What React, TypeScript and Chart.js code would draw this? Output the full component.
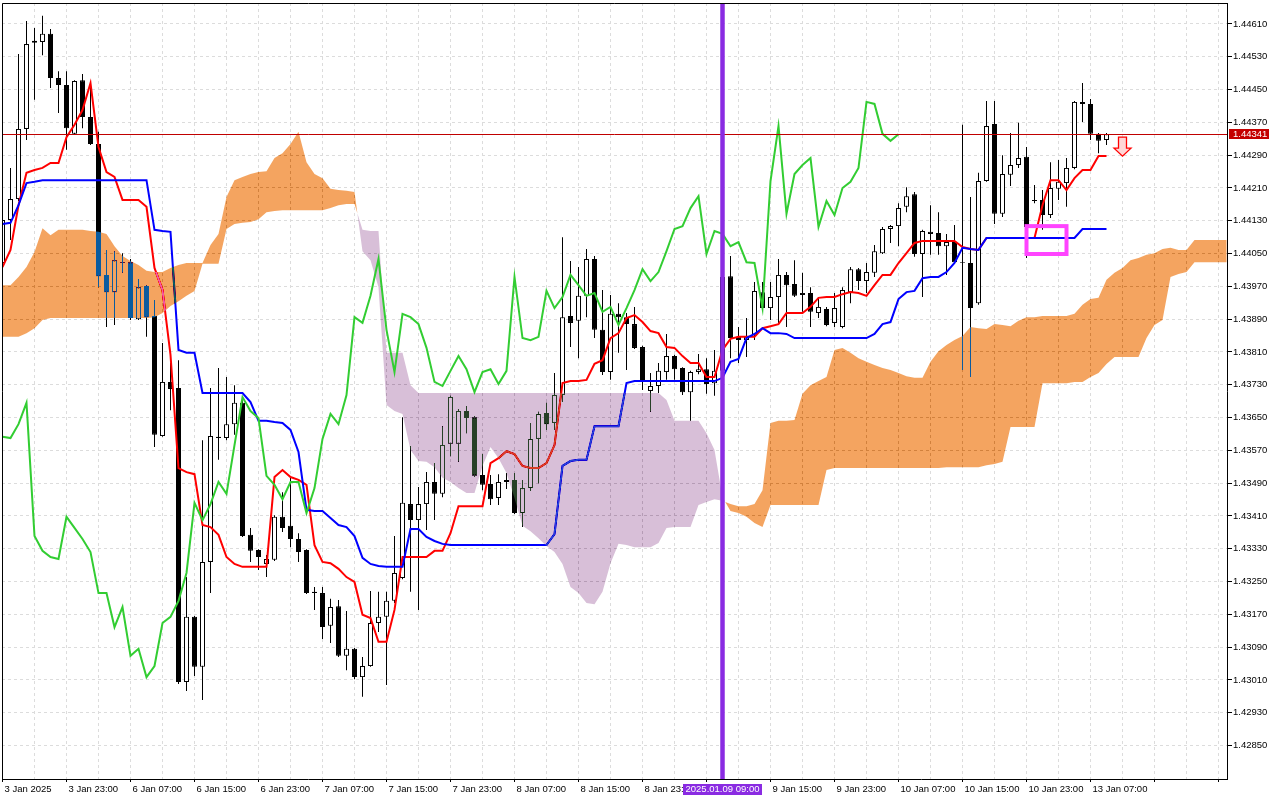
import { useEffect, useRef } from 'react';
import { Chart, registerables } from 'chart.js';

Chart.register(...registerables);

// H1 bars, index 0 = 3 Jan 15:00; one label every 8 bars
const timeLabels = [
  '3 Jan 2025', '3 Jan 23:00', '6 Jan 07:00', '6 Jan 15:00', '6 Jan 23:00', '7 Jan 07:00',
  '7 Jan 15:00', '7 Jan 23:00', '8 Jan 07:00', '8 Jan 15:00', '8 Jan 23:00', '9 Jan 07:00',
  '9 Jan 15:00', '9 Jan 23:00', '10 Jan 07:00', '10 Jan 15:00', '10 Jan 23:00', '13 Jan 07:00',
];

const priceTicks = [
  1.4461, 1.4453, 1.4445, 1.4437, 1.4429, 1.4421, 1.4413, 1.4405, 1.4397, 1.4389, 1.4381, 1.4373,
  1.4365, 1.4357, 1.4349, 1.4341, 1.4333, 1.4325, 1.4317, 1.4309, 1.4301, 1.4293, 1.4285,
];

const opens = [
  1.44027, 1.44132, 1.44183, 1.44354, 1.44564, 1.44566, 1.44586, 1.44478, 1.44461, 1.44342,
  1.44473, 1.44383, 1.44317, 1.43998, 1.43956, 1.44029, 1.44029, 1.4389, 1.43971, 1.43898,
  1.43605, 1.43737, 1.43722, 1.43005, 1.43164, 1.43042, 1.43298, 1.43603, 1.436, 1.43634,
  1.43686, 1.43364, 1.43327, 1.43293, 1.43303, 1.43408, 1.43386, 1.43354, 1.43327, 1.43225,
  1.43222, 1.43142, 1.4319, 1.43069, 1.43086, 1.43017, 1.43044, 1.43149, 1.43164, 1.43203,
  1.43259, 1.43439, 1.434, 1.43439, 1.43493, 1.43464, 1.43586, 1.43586, 1.43666, 1.43651,
  1.4351, 1.43488, 1.43454, 1.43498, 1.43498, 1.43417, 1.43478, 1.43598, 1.43661, 1.43637,
  1.43705, 1.43898, 1.43886, 1.43947, 1.44037, 1.43864, 1.43761, 1.43903, 1.43895, 1.43878,
  1.43822, 1.43715, 1.43727, 1.43761, 1.438, 1.43771, 1.43712, 1.43761, 1.43768, 1.43734,
  1.43764, 1.43995, 1.43847, 1.43839, 1.43851, 1.43956, 1.43917, 1.43944, 1.43998, 1.43976,
  1.43949, 1.43954, 1.43905, 1.43915, 1.43881, 1.43871, 1.43956, 1.44012, 1.43983, 1.44003,
  1.44051, 1.4411, 1.44117, 1.44164, 1.44195, 1.44049, 1.44103, 1.441, 1.44068, 1.44078,
  1.44029, 1.44027, 1.43929, 1.44227, 1.44366, 1.44147, 1.44242, 1.44266, 1.44286, 1.44181,
  1.44181, 1.44144, 1.44208, 1.44222, 1.44259, 1.4442, 1.44415, 1.44342, 1.44327,
];
const highs = [
  1.44144, 1.44259, 1.44537, 1.44617, 1.446, 1.4463, 1.44598, 1.44495, 1.44495, 1.44473,
  1.44488, 1.44466, 1.44347, 1.44059, 1.44056, 1.44051, 1.44037, 1.43988, 1.43973, 1.43937,
  1.43832, 1.43783, 1.4379, 1.43261, 1.43166, 1.43595, 1.43722, 1.43771, 1.43749, 1.43729,
  1.43698, 1.43381, 1.43329, 1.43315, 1.43412, 1.43468, 1.43503, 1.43368, 1.43329, 1.43237,
  1.43237, 1.43208, 1.43205, 1.43178, 1.43088, 1.43066, 1.43227, 1.43225, 1.43225, 1.43361,
  1.43651, 1.43581, 1.43481, 1.43517, 1.43539, 1.43629, 1.43703, 1.43671, 1.43678, 1.43654,
  1.43561, 1.4351, 1.43512, 1.43515, 1.43515, 1.43498, 1.43637, 1.43664, 1.43686, 1.43759,
  1.4409, 1.44032, 1.44017, 1.44061, 1.44044, 1.43961, 1.43949, 1.43929, 1.43905, 1.4392,
  1.43825, 1.43759, 1.43783, 1.43854, 1.43803, 1.43773, 1.43764, 1.43805, 1.43795, 1.43815,
  1.44029, 1.44044, 1.43871, 1.43893, 1.43981, 1.43981, 1.43981, 1.44037, 1.44005, 1.44034,
  1.44003, 1.43968, 1.43942, 1.4392, 1.43954, 1.43968, 1.44017, 1.44015, 1.44027, 1.44071,
  1.44115, 1.4412, 1.44173, 1.44212, 1.442, 1.44108, 1.44168, 1.44151, 1.44098, 1.4412,
  1.44364, 1.44188, 1.44247, 1.44422, 1.44422, 1.4429, 1.44344, 1.44369, 1.4431, 1.44217,
  1.44205, 1.44273, 1.44278, 1.44283, 1.44422, 1.44466, 1.44427, 1.44344, 1.44344,
];
const lows = [
  1.44015, 1.44083, 1.44178, 1.44327, 1.44425, 1.44534, 1.44454, 1.44393, 1.44303, 1.44339,
  1.44356, 1.44315, 1.43968, 1.43871, 1.43876, 1.44003, 1.43888, 1.43888, 1.43847, 1.43578,
  1.43603, 1.43668, 1.43, 1.42983, 1.4302, 1.42961, 1.43222, 1.43547, 1.43595, 1.43608,
  1.43359, 1.43298, 1.43278, 1.43261, 1.433, 1.43371, 1.43334, 1.43298, 1.4322, 1.43181,
  1.4311, 1.431, 1.43066, 1.43034, 1.43012, 1.42969, 1.43042, 1.43127, 1.42998, 1.43198,
  1.43256, 1.43225, 1.43181, 1.43376, 1.434, 1.43456, 1.43556, 1.43542, 1.43612, 1.43505,
  1.43473, 1.43437, 1.43437, 1.43476, 1.43415, 1.43383, 1.43471, 1.4349, 1.4362, 1.4362,
  1.43688, 1.43822, 1.43795, 1.43895, 1.43844, 1.43754, 1.43742, 1.43808, 1.43766, 1.43817,
  1.43717, 1.43664, 1.4371, 1.43742, 1.43742, 1.43705, 1.43642, 1.43756, 1.43708, 1.43703,
  1.43754, 1.43795, 1.43783, 1.43798, 1.43839, 1.43915, 1.43888, 1.43876, 1.43871, 1.43944,
  1.43908, 1.43871, 1.43893, 1.43873, 1.43871, 1.43868, 1.43929, 1.43961, 1.43954, 1.43993,
  1.44049, 1.44076, 1.44068, 1.44151, 1.44042, 1.43944, 1.44047, 1.44047, 1.43998, 1.44027,
  1.43766, 1.43749, 1.43925, 1.44225, 1.44122, 1.44139, 1.44215, 1.44259, 1.44039, 1.44173,
  1.44108, 1.44137, 1.44181, 1.44164, 1.44256, 1.44371, 1.44327, 1.44295, 1.44315,
];
const closes = [
  1.44132, 1.44183, 1.44354, 1.44561, 1.44569, 1.44586, 1.44478, 1.44461, 1.44356, 1.44471,
  1.44383, 1.44317, 1.43995, 1.43956, 1.44034, 1.44027, 1.43893, 1.43968, 1.43895, 1.43608,
  1.43737, 1.4372, 1.43005, 1.43164, 1.43042, 1.43298, 1.43605, 1.436, 1.43634, 1.43686,
  1.43361, 1.43325, 1.4331, 1.43305, 1.43408, 1.43381, 1.43354, 1.43322, 1.43222, 1.43222,
  1.43139, 1.43188, 1.43069, 1.43086, 1.43017, 1.43044, 1.43149, 1.43164, 1.43203, 1.43271,
  1.43442, 1.434, 1.43439, 1.43493, 1.43464, 1.43583, 1.437, 1.43666, 1.43649, 1.43508,
  1.43486, 1.43451, 1.43493, 1.43493, 1.43417, 1.43478, 1.43598, 1.43659, 1.43634, 1.43705,
  1.43895, 1.43881, 1.43947, 1.44037, 1.43864, 1.43761, 1.43903, 1.43895, 1.43878, 1.4382,
  1.43737, 1.43727, 1.43764, 1.438, 1.43768, 1.43712, 1.43761, 1.43768, 1.43732, 1.43764,
  1.43993, 1.43844, 1.43839, 1.43847, 1.43959, 1.43917, 1.43944, 1.43998, 1.43973, 1.43947,
  1.43954, 1.43908, 1.4392, 1.43876, 1.43917, 1.43961, 1.44012, 1.43983, 1.44005, 1.44056,
  1.4411, 1.44117, 1.44161, 1.4419, 1.44049, 1.44105, 1.44098, 1.44068, 1.44078, 1.44029,
  1.44027, 1.43917, 1.44227, 1.44361, 1.44147, 1.44244, 1.44266, 1.44283, 1.44115, 1.44178,
  1.44144, 1.4421, 1.44225, 1.44259, 1.4442, 1.44415, 1.44342, 1.44325, 1.44341,
];

const tenkan = [
  1.44017, 1.44059, 1.44168, 1.44247, 1.44254, 1.44259, 1.44271, 1.44271, 1.44334, 1.44364,
  1.444, 1.44466, 1.4431, 1.44249, 1.44237, 1.44181, 1.44181, 1.44181, 1.44164, 1.44015,
  1.43961, 1.43803, 1.43527, 1.43517, 1.43512, 1.43388, 1.43383, 1.43364, 1.4331, 1.43293,
  1.43286, 1.43286, 1.43286, 1.43286, 1.43505, 1.43522, 1.43505, 1.43498, 1.43486, 1.43339,
  1.43298, 1.43295, 1.43281, 1.43261, 1.43249, 1.43169, 1.43161, 1.43103, 1.43103, 1.43181,
  1.4331, 1.4331, 1.4331, 1.4331, 1.43325, 1.43325, 1.43368, 1.43434, 1.43434, 1.43434,
  1.43434, 1.43539, 1.43551, 1.43568, 1.43561, 1.43532, 1.43527, 1.43527, 1.43539, 1.43583,
  1.43734, 1.43739, 1.43739, 1.43742, 1.43781, 1.4379, 1.43844, 1.43856, 1.43893, 1.439,
  1.43883, 1.43861, 1.43856, 1.43822, 1.4382, 1.438, 1.43783, 1.43783, 1.43749, 1.43749,
  1.43815, 1.43842, 1.43847, 1.43847, 1.43847, 1.43868, 1.43873, 1.43878, 1.43905, 1.43905,
  1.43905, 1.4392, 1.43942, 1.43944, 1.43944, 1.43951, 1.43956, 1.43954, 1.43947, 1.43973,
  1.43998, 1.43998, 1.44027, 1.44051, 1.44076, 1.44081, 1.44081, 1.44081, 1.44081, 1.44081,
  1.44066, 1.44061, 1.44059, 1.44088, 1.44088, 1.44088, 1.44088, 1.44088, 1.44088, 1.44088,
  1.44168, 1.44229, 1.44229, 1.44205, 1.44234, 1.44254, 1.44254, 1.44288, 1.44288,
];
const kijun = [
  1.44122, 1.44125, 1.44168, 1.44222, 1.44225, 1.44229, 1.44229, 1.44229, 1.44229, 1.44229,
  1.44229, 1.44229, 1.44229, 1.44229, 1.44229, 1.44229, 1.44229, 1.44229, 1.44229, 1.44108,
  1.44105, 1.44103, 1.43815, 1.43808, 1.43808, 1.4371, 1.4371, 1.4371, 1.4371, 1.4371,
  1.4371, 1.43688, 1.43642, 1.43642, 1.43639, 1.43637, 1.4362, 1.43566, 1.43425, 1.43422,
  1.43422, 1.43405, 1.43388, 1.43383, 1.43361, 1.43308, 1.43293, 1.43288, 1.43286, 1.43286,
  1.43286, 1.43378, 1.43378, 1.43359, 1.43349, 1.43342, 1.43339, 1.43339, 1.43339, 1.43339,
  1.43339, 1.43339, 1.43339, 1.43339, 1.43339, 1.43339, 1.43339, 1.43339, 1.43339, 1.43366,
  1.43532, 1.43544, 1.43547, 1.43547, 1.43629, 1.43629, 1.43629, 1.43629, 1.43734, 1.43739,
  1.43739, 1.43739, 1.43739, 1.43739, 1.43739, 1.43739, 1.43739, 1.43739, 1.43739, 1.43739,
  1.43747, 1.43786, 1.43793, 1.43844, 1.43854, 1.43868, 1.43856, 1.43856, 1.43854, 1.43844,
  1.43844, 1.43844, 1.43844, 1.43844, 1.43844, 1.43844, 1.43844, 1.43844, 1.43844, 1.43854,
  1.43878, 1.43883, 1.43939, 1.43956, 1.43959, 1.4399, 1.43993, 1.43993, 1.44005, 1.44027,
  1.44064, 1.44061, 1.44059, 1.44088, 1.44088, 1.44088, 1.44088, 1.44088, 1.44088, 1.44088,
  1.44088, 1.44088, 1.44088, 1.44088, 1.44088, 1.4411, 1.4411, 1.4411, 1.4411,
];
// lagging span, plotted 26 bars back
const chikou = [
  1.43603, 1.436, 1.43634, 1.43686, 1.43361, 1.43325, 1.4331, 1.43305, 1.43408, 1.43381,
  1.43354, 1.43322, 1.43222, 1.43222, 1.43139, 1.43188, 1.43069, 1.43086, 1.43017, 1.43044,
  1.43149, 1.43164, 1.43203, 1.43271, 1.43442, 1.434, 1.43439, 1.43493, 1.43464, 1.43583,
  1.437, 1.43666, 1.43649, 1.43508, 1.43486, 1.43451, 1.43493, 1.43493, 1.43417, 1.43478,
  1.43598, 1.43659, 1.43634, 1.43705, 1.43895, 1.43881, 1.43947, 1.44037, 1.43864, 1.43761,
  1.43903, 1.43895, 1.43878, 1.4382, 1.43737, 1.43727, 1.43764, 1.438, 1.43768, 1.43712,
  1.43761, 1.43768, 1.43732, 1.43764, 1.43993, 1.43844, 1.43839, 1.43847, 1.43959, 1.43917,
  1.43944, 1.43998, 1.43973, 1.43947, 1.43954, 1.43908, 1.4392, 1.43876, 1.43917, 1.43961,
  1.44012, 1.43983, 1.44005, 1.44056, 1.4411, 1.44117, 1.44161, 1.4419, 1.44049, 1.44105,
  1.44098, 1.44068, 1.44078, 1.44029, 1.44027, 1.43917, 1.44227, 1.44361, 1.44147, 1.44244,
  1.44266, 1.44283, 1.44115, 1.44178, 1.44144, 1.4421, 1.44225, 1.44259, 1.4442, 1.44415,
  1.44342, 1.44325, 1.44341,
];
// leading spans, plotted 26 bars ahead
const senkouA = [
  1.43973, 1.43973, 1.43993, 1.44017, 1.44054, 1.44112, 1.44095, 1.44108, 1.44108, 1.44108,
  1.44108, 1.44105, 1.44103, 1.44098, 1.44068, 1.44044, 1.44032, 1.44022, 1.44008, 1.44005,
  1.44005, 1.44015, 1.44022, 1.44027, 1.44027, 1.44027, 1.44071, 1.44098, 1.44188, 1.44229,
  1.44237, 1.44244, 1.44249, 1.44251, 1.44283, 1.44295, 1.44317, 1.44347, 1.44273, 1.44244,
  1.44234, 1.44208, 1.44205, 1.44203, 1.442, 1.44056, 1.44034, 1.43968, 1.43681, 1.43666,
  1.43659, 1.43571, 1.43544, 1.43542, 1.43529, 1.43503, 1.43493, 1.43478, 1.43466, 1.43466,
  1.43532, 1.43578, 1.43551, 1.43515, 1.43454, 1.43386, 1.43373, 1.43356, 1.43337, 1.43322,
  1.43293, 1.43237, 1.43222, 1.43198, 1.43195, 1.43225, 1.43295, 1.43342, 1.43339, 1.43334,
  1.43334, 1.43334, 1.43344, 1.43381, 1.43383, 1.43383, 1.43383, 1.43437, 1.43444, 1.43451,
  1.43447, 1.43439, 1.43434, 1.43434, 1.43439, 1.43473, 1.43637, 1.43642, 1.43642, 1.43644,
  1.43708, 1.43729, 1.43739, 1.43749, 1.43815, 1.4382, 1.43808, 1.43795, 1.43786, 1.43778,
  1.43771, 1.43766, 1.43759, 1.43751, 1.43747, 1.43747, 1.43786, 1.43812, 1.43827, 1.43839,
  1.43849, 1.43871, 1.43868, 1.43866, 1.43878, 1.43876, 1.43873, 1.43886, 1.43895, 1.43895,
  1.43898, 1.43898, 1.43898, 1.43898, 1.43903, 1.43925, 1.43939, 1.43942, 1.43986, 1.44003,
  1.44015, 1.44034, 1.44039, 1.44047, 1.44051, 1.44061, 1.44064, 1.44059, 1.44059, 1.44083,
  1.44083, 1.44083, 1.44083, 1.44083,
];
const senkouB = [
  1.43847, 1.43847, 1.43847, 1.43856, 1.43868, 1.43888, 1.43893, 1.43893, 1.43893, 1.43893,
  1.43893, 1.43893, 1.43893, 1.43893, 1.43893, 1.43893, 1.43893, 1.43893, 1.43893, 1.43895,
  1.43905, 1.43922, 1.43934, 1.43947, 1.43959, 1.44025, 1.44025, 1.44025, 1.4411, 1.44122,
  1.44125, 1.44127, 1.44134, 1.44151, 1.44154, 1.44156, 1.44156, 1.44156, 1.44156, 1.44156,
  1.44156, 1.44161, 1.44168, 1.44171, 1.44171, 1.44108, 1.44105, 1.44105, 1.43808, 1.43808,
  1.43808, 1.43729, 1.4371, 1.4371, 1.4371, 1.4371, 1.4371, 1.4371, 1.4371, 1.4371,
  1.4371, 1.4371, 1.4371, 1.4371, 1.4371, 1.4371, 1.4371, 1.4371, 1.4371, 1.4371,
  1.4371, 1.4371, 1.4371, 1.4371, 1.4371, 1.4371, 1.4371, 1.4371, 1.4371, 1.4371,
  1.4371, 1.4371, 1.4371, 1.43693, 1.43642, 1.43642, 1.43642, 1.43642, 1.43612, 1.43571,
  1.43456, 1.43422, 1.43417, 1.43408, 1.43393, 1.43383, 1.43437, 1.43437, 1.43437, 1.43437,
  1.43437, 1.43437, 1.43437, 1.43522, 1.43527, 1.43527, 1.43527, 1.43527, 1.43527, 1.43527,
  1.43527, 1.43527, 1.43527, 1.43527, 1.43527, 1.43527, 1.43527, 1.43527, 1.43529, 1.43529,
  1.43529, 1.43529, 1.43529, 1.43534, 1.43537, 1.43542, 1.43627, 1.43627, 1.43627, 1.43627,
  1.43734, 1.43734, 1.43734, 1.43734, 1.43737, 1.43737, 1.43749, 1.43759, 1.43781, 1.43798,
  1.43798, 1.43798, 1.43798, 1.43844, 1.43876, 1.43888, 1.43993, 1.44, 1.44005, 1.44029,
  1.44029, 1.44029, 1.44029, 1.44029,
];

const bidPrice = 1.44341;
const markerBar = 90;
const markerLabel = '2025.01.09 09:00';
const boxBars = [128, 133];
const boxPrices = [1.44117, 1.44049];
const arrowBar = 140;
const arrowPrice = 1.44334;

const FONT = '9.5px "Liberation Sans", Arial, sans-serif';
const gridBars = Array.from({ length: 39 }, (_, k) => k * 4);

function drawCloud(chart: any) {
  const { ctx, chartArea: area } = chart;
  const xs = chart.scales.x;
  const ys = chart.scales.y;
  const up = new Path2D();
  const down = new Path2D();
  const quad = (p: Path2D, x0: number, a0: number, b0: number, x1: number, a1: number, b1: number) => {
    p.moveTo(x0, ys.getPixelForValue(a0));
    p.lineTo(x1, ys.getPixelForValue(a1));
    p.lineTo(x1, ys.getPixelForValue(b1));
    p.lineTo(x0, ys.getPixelForValue(b0));
    p.closePath();
  };
  for (let i = 0; i < senkouA.length - 1; i++) {
    const x0 = xs.getPixelForValue(i);
    const x1 = xs.getPixelForValue(i + 1);
    const a0 = senkouA[i], a1 = senkouA[i + 1];
    const b0 = senkouB[i], b1 = senkouB[i + 1];
    const d0 = a0 - b0, d1 = a1 - b1;
    if (d0 * d1 < 0) {
      const t = d0 / (d0 - d1);
      const xc = x0 + (x1 - x0) * t;
      const vc = a0 + (a1 - a0) * t;
      quad(d0 > 0 ? up : down, x0, a0, b0, xc, vc, vc);
      quad(d1 > 0 ? up : down, xc, vc, vc, x1, a1, b1);
    } else {
      quad(d0 + d1 >= 0 ? up : down, x0, a0, b0, x1, a1, b1);
    }
  }
  ctx.save();
  ctx.beginPath();
  ctx.rect(area.left, area.top, area.right - area.left, area.bottom - area.top);
  ctx.clip();
  // the terminal paints the cloud inverted over what is beneath it
  ctx.globalCompositeOperation = 'difference';
  ctx.fillStyle = 'rgb(11,91,159)'; // sandy brown on white
  ctx.fill(up);
  ctx.fillStyle = 'rgb(39,64,39)'; // thistle on white
  ctx.fill(down);
  ctx.restore();
}

const overlays = {
  id: 'overlays',
  beforeDraw(chart: any) {
    const { ctx, width, height } = chart;
    ctx.save();
    ctx.fillStyle = '#ffffff';
    ctx.fillRect(0, 0, width, height);
    ctx.restore();
  },
  beforeDatasetDraw(chart: any, args: any) {
    if (chart.data.datasets[args.index].label === 'Chikou') drawCloud(chart);
  },
  afterDatasetsDraw(chart: any) {
    const { ctx, chartArea: area } = chart;
    const xs = chart.scales.x;
    const ys = chart.scales.y;
    ctx.save();
    ctx.beginPath();
    ctx.rect(area.left, area.top, area.right - area.left, area.bottom - area.top);
    ctx.clip();

    // bid line
    const by = Math.round(ys.getPixelForValue(bidPrice)) + 0.5;
    ctx.strokeStyle = '#c00000';
    ctx.lineWidth = 1;
    ctx.beginPath();
    ctx.moveTo(area.left, by);
    ctx.lineTo(area.right, by);
    ctx.stroke();

    // vertical marker
    const mx = xs.getPixelForValue(markerBar);
    ctx.strokeStyle = '#8a2be2';
    ctx.lineWidth = 4.5;
    ctx.beginPath();
    ctx.moveTo(mx, area.top);
    ctx.lineTo(mx, area.bottom);
    ctx.stroke();

    // highlight box
    const bx0 = xs.getPixelForValue(boxBars[0]);
    const bx1 = xs.getPixelForValue(boxBars[1]);
    const by0 = ys.getPixelForValue(boxPrices[0]);
    const by1 = ys.getPixelForValue(boxPrices[1]);
    ctx.strokeStyle = '#ff44ff';
    ctx.lineWidth = 4;
    ctx.strokeRect(bx0, by0, bx1 - bx0, by1 - by0);

    // sell arrow
    const ax = xs.getPixelForValue(arrowBar);
    const ay = ys.getPixelForValue(arrowPrice);
    ctx.beginPath();
    ctx.moveTo(ax - 4, ay);
    ctx.lineTo(ax + 4, ay);
    ctx.lineTo(ax + 4, ay + 11);
    ctx.lineTo(ax + 8.5, ay + 11);
    ctx.lineTo(ax, ay + 19);
    ctx.lineTo(ax - 8.5, ay + 11);
    ctx.lineTo(ax - 4, ay + 11);
    ctx.closePath();
    ctx.fillStyle = '#ffd6d6';
    ctx.fill();
    ctx.strokeStyle = '#ff0000';
    ctx.lineWidth = 1.3;
    ctx.stroke();
    ctx.restore();
  },
  afterDraw(chart: any) {
    const { ctx, chartArea: area } = chart;
    const xs = chart.scales.x;
    const ys = chart.scales.y;
    ctx.save();
    ctx.strokeStyle = '#000';
    ctx.lineWidth = 1;
    ctx.beginPath();
    ctx.moveTo(area.left + 0.5, area.bottom);
    ctx.lineTo(area.left + 0.5, area.top + 0.5);
    ctx.lineTo(area.right, area.top + 0.5);
    ctx.stroke();

    ctx.font = FONT;
    ctx.textBaseline = 'middle';

    // bid price tag
    const by = Math.round(ys.getPixelForValue(bidPrice));
    ctx.fillStyle = '#c40000';
    ctx.fillRect(area.right + 2, by - 5, 40, 10);
    ctx.fillStyle = '#fff';
    ctx.textAlign = 'left';
    ctx.fillText(bidPrice.toFixed(5), area.right + 6, by + 0.5);

    // marker time tag
    const mx = xs.getPixelForValue(markerBar);
    ctx.fillStyle = '#8a2be2';
    ctx.fillRect(mx - 39.5, area.bottom + 5, 79, 11);
    ctx.fillStyle = '#fff';
    ctx.textAlign = 'center';
    ctx.fillText(markerLabel, mx, area.bottom + 10.5);
    ctx.restore();
  },
};

export default function App() {
  const canvasRef = useRef<HTMLCanvasElement | null>(null);

  useEffect(() => {
    const canvas = canvasRef.current;
    if (!canvas) return;
    const font = { family: '"Liberation Sans", Arial, sans-serif', size: 9.5 };
    const bars = opens.map((_, i) => i);

    const chart = new Chart(canvas, {
      type: 'bar',
      data: {
        datasets: [
          {
            type: 'line',
            label: 'Chikou',
            data: chikou.map((v, i) => ({ x: i, y: v })),
            borderColor: '#32cd32',
            borderWidth: 2,
            pointRadius: 0,
            order: 1,
          },
          {
            type: 'line',
            label: 'Kijun',
            data: kijun.map((v, i) => ({ x: i, y: v })),
            borderColor: '#0000ff',
            borderWidth: 2,
            pointRadius: 0,
            order: 2,
          },
          {
            type: 'line',
            label: 'Tenkan',
            data: tenkan.map((v, i) => ({ x: i, y: v })),
            borderColor: '#ff0000',
            borderWidth: 2,
            pointRadius: 0,
            order: 3,
          },
          {
            type: 'bar',
            label: 'Bodies',
            data: bars.map((i) => ({ x: i, y: [opens[i], closes[i]] })),
            backgroundColor: bars.map((i) => (closes[i] >= opens[i] ? '#ffffff' : '#000000')),
            borderColor: '#000000',
            borderWidth: 1,
            borderSkipped: false,
            barThickness: 5,
            grouped: false,
            inflateAmount: 0,
            order: 4,
          },
          {
            type: 'bar',
            label: 'Wicks',
            data: bars.map((i) => ({ x: i, y: [lows[i], highs[i]] })),
            backgroundColor: '#000000',
            borderWidth: 0,
            barThickness: 1,
            grouped: false,
            inflateAmount: 0,
            order: 5,
          },
        ] as any,
      },
      options: {
        responsive: false,
        animation: false,
        devicePixelRatio: 1,
        events: [],
        layout: { padding: { left: 2, top: 3, right: 0, bottom: 0 }, autoPadding: false },
        plugins: { legend: { display: false }, tooltip: { enabled: false } },
        scales: {
          x: {
            type: 'linear',
            offset: false,
            min: -0.0625,
            max: 153.0625,
            afterBuildTicks: (s: any) => {
              s.ticks = gridBars.map((v) => ({ value: v }));
            },
            afterFit: (s: any) => {
              s.height = 21;
              s.paddingLeft = 0;
              s.paddingRight = 0;
              s.paddingTop = 0;
              s.paddingBottom = 0;
            },
            grid: {
              color: '#dcdcdc',
              offset: false,
              tickLength: 3,
              tickColor: (c: any) => (c.tick && c.tick.value % 8 === 0 ? '#000' : 'rgba(0,0,0,0)'),
            },
            border: { color: '#000', dash: [3, 3] },
            ticks: {
              autoSkip: false,
              maxRotation: 0,
              minRotation: 0,
              align: 'start',
              padding: 2,
              labelOffset: 2,
              color: '#000',
              font,
              callback: (v: any) => (v % 8 === 0 ? timeLabels[v / 8] ?? '' : ''),
            },
          },
          y: {
            type: 'linear',
            position: 'right',
            min: 1.427685,
            max: 1.446612,
            afterBuildTicks: (s: any) => {
              s.ticks = priceTicks.map((v) => ({ value: v }));
            },
            afterFit: (s: any) => {
              s.width = 53;
              s.paddingLeft = 0;
              s.paddingRight = 0;
              s.paddingTop = 0;
              s.paddingBottom = 0;
            },
            grid: { color: '#dcdcdc', tickLength: 5, tickColor: '#000' },
            border: { color: '#000', dash: [3, 3] },
            ticks: {
              padding: 1,
              color: '#000',
              font,
              callback: (v: any) => Number(v).toFixed(5),
            },
          },
        },
      } as any,
      plugins: [overlays],
    });

    return () => chart.destroy();
  }, []);

  return (
    <div style={{ position: 'absolute', left: 0, top: 0, width: 1280, height: 800, background: '#fff' }}>
      <canvas ref={canvasRef} width={1280} height={800} />
    </div>
  );
}
